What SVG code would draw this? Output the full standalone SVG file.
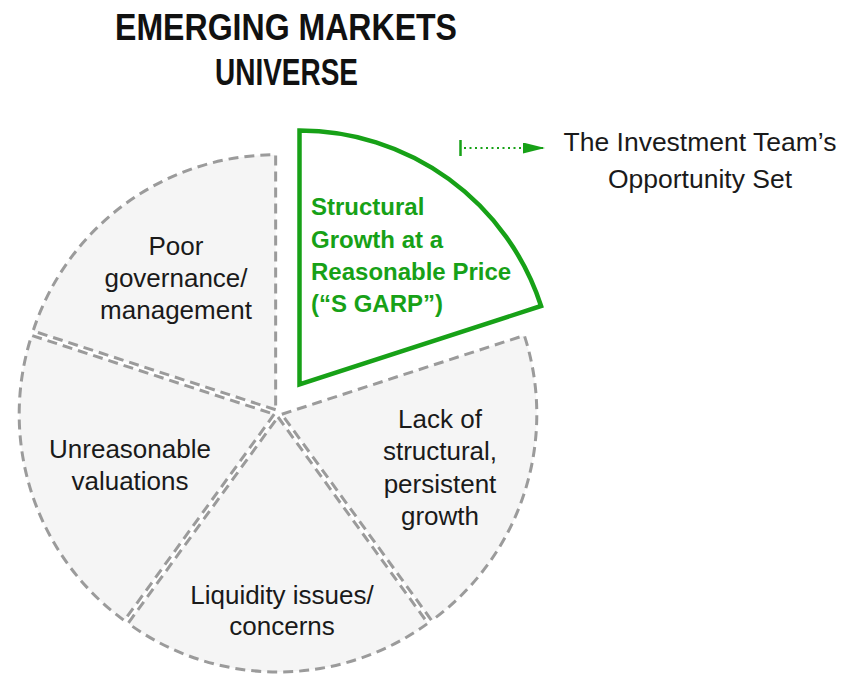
<svg xmlns="http://www.w3.org/2000/svg" width="844" height="679" viewBox="0 0 844 679">
  <defs>
    <style>
      .slice { fill: #f5f5f5; stroke: #9b9b9b; stroke-width: 3; stroke-dasharray: 10 6; }
      .focus { fill: #ffffff; stroke: #17a117; stroke-width: 4.5; stroke-linejoin: miter; }
      .lbl { font-family: "Liberation Sans", Arial, sans-serif; font-size: 26px; fill: #1a1a1a; text-anchor: middle; }
      .glbl { font-family: "Liberation Sans", Arial, sans-serif; font-size: 24px; font-weight: bold; fill: #17a117; }
      .title { font-family: "Liberation Sans", Arial, sans-serif; font-size: 37px; font-weight: bold; fill: #111111; text-anchor: middle; }
      .side { font-family: "Liberation Sans", Arial, sans-serif; font-size: 26.5px; fill: #1a1a1a; text-anchor: middle; }
    </style>
    <marker id="arrowhead" viewBox="0 0 10 10" refX="10" refY="5" markerWidth="22" markerHeight="11" markerUnits="userSpaceOnUse" orient="auto" preserveAspectRatio="none">
      <path d="M0,0 L10,5 L0,10 Z" fill="#17a117"/>
    </marker>
  </defs>

  <rect width="844" height="679" fill="#ffffff"/>

  <!-- Title -->
  <g id="title">
    <text class="title" x="286" y="40" textLength="342" lengthAdjust="spacingAndGlyphs">EMERGING MARKETS</text>
    <text class="title" x="286.5" y="85" textLength="143" lengthAdjust="spacingAndGlyphs">UNIVERSE</text>
  </g>

  <!-- Pie slices -->
  <g id="slice-lack-growth">
    <path class="slice" d="M281.8,414.24 L524.32,335.44 A255,255 0 0 1 431.69,620.54 Z"/>
    <text class="lbl" x="440" y="428">Lack of</text>
    <text class="lbl" x="440" y="460">structural,</text>
    <text class="lbl" x="440" y="493">persistent</text>
    <text class="lbl" x="440" y="525">growth</text>
  </g>

  <g id="slice-liquidity">
    <path class="slice" d="M278,417 L427.89,623.3 A255,255 0 0 1 128.11,623.3 Z"/>
    <text class="lbl" x="282" y="604">Liquidity issues/</text>
    <text class="lbl" x="282" y="635">concerns</text>
  </g>

  <g id="slice-valuations">
    <path class="slice" d="M274.2,414.24 L124.31,620.54 A255,255 0 0 1 31.68,335.44 Z"/>
    <text class="lbl" x="130" y="458">Unreasonable</text>
    <text class="lbl" x="130" y="490">valuations</text>
  </g>

  <g id="slice-governance">
    <path class="slice" d="M275.65,409.76 L33.13,330.96 A255,255 0 0 1 275.65,154.76 Z"/>
    <text class="lbl" x="176" y="255">Poor</text>
    <text class="lbl" x="176" y="287">governance/</text>
    <text class="lbl" x="176" y="319">management</text>
  </g>

  <g id="slice-sgarp">
    <path class="focus" d="M299.5,384.5 L299.5,130.5 A254,254 0 0 1 541.07,306 Z"/>
    <text class="glbl" x="311" y="215">Structural</text>
    <text class="glbl" x="311" y="248">Growth at a</text>
    <text class="glbl" x="311" y="280">Reasonable Price</text>
    <text class="glbl" x="311" y="312">(“S GARP”)</text>
  </g>

  <!-- Connector -->
  <g id="connectors">
    <line x1="460.5" y1="140" x2="460.5" y2="156" stroke="#17a117" stroke-width="2.5"/>
    <line x1="464" y1="148" x2="545" y2="148" stroke="#17a117" stroke-width="2.2" stroke-dasharray="2 3.5" marker-end="url(#arrowhead)"/>
  </g>

  <g id="opportunity-set">
    <text class="side" x="700" y="151">The Investment Team’s</text>
    <text class="side" x="700" y="188">Opportunity Set</text>
  </g>
</svg>
